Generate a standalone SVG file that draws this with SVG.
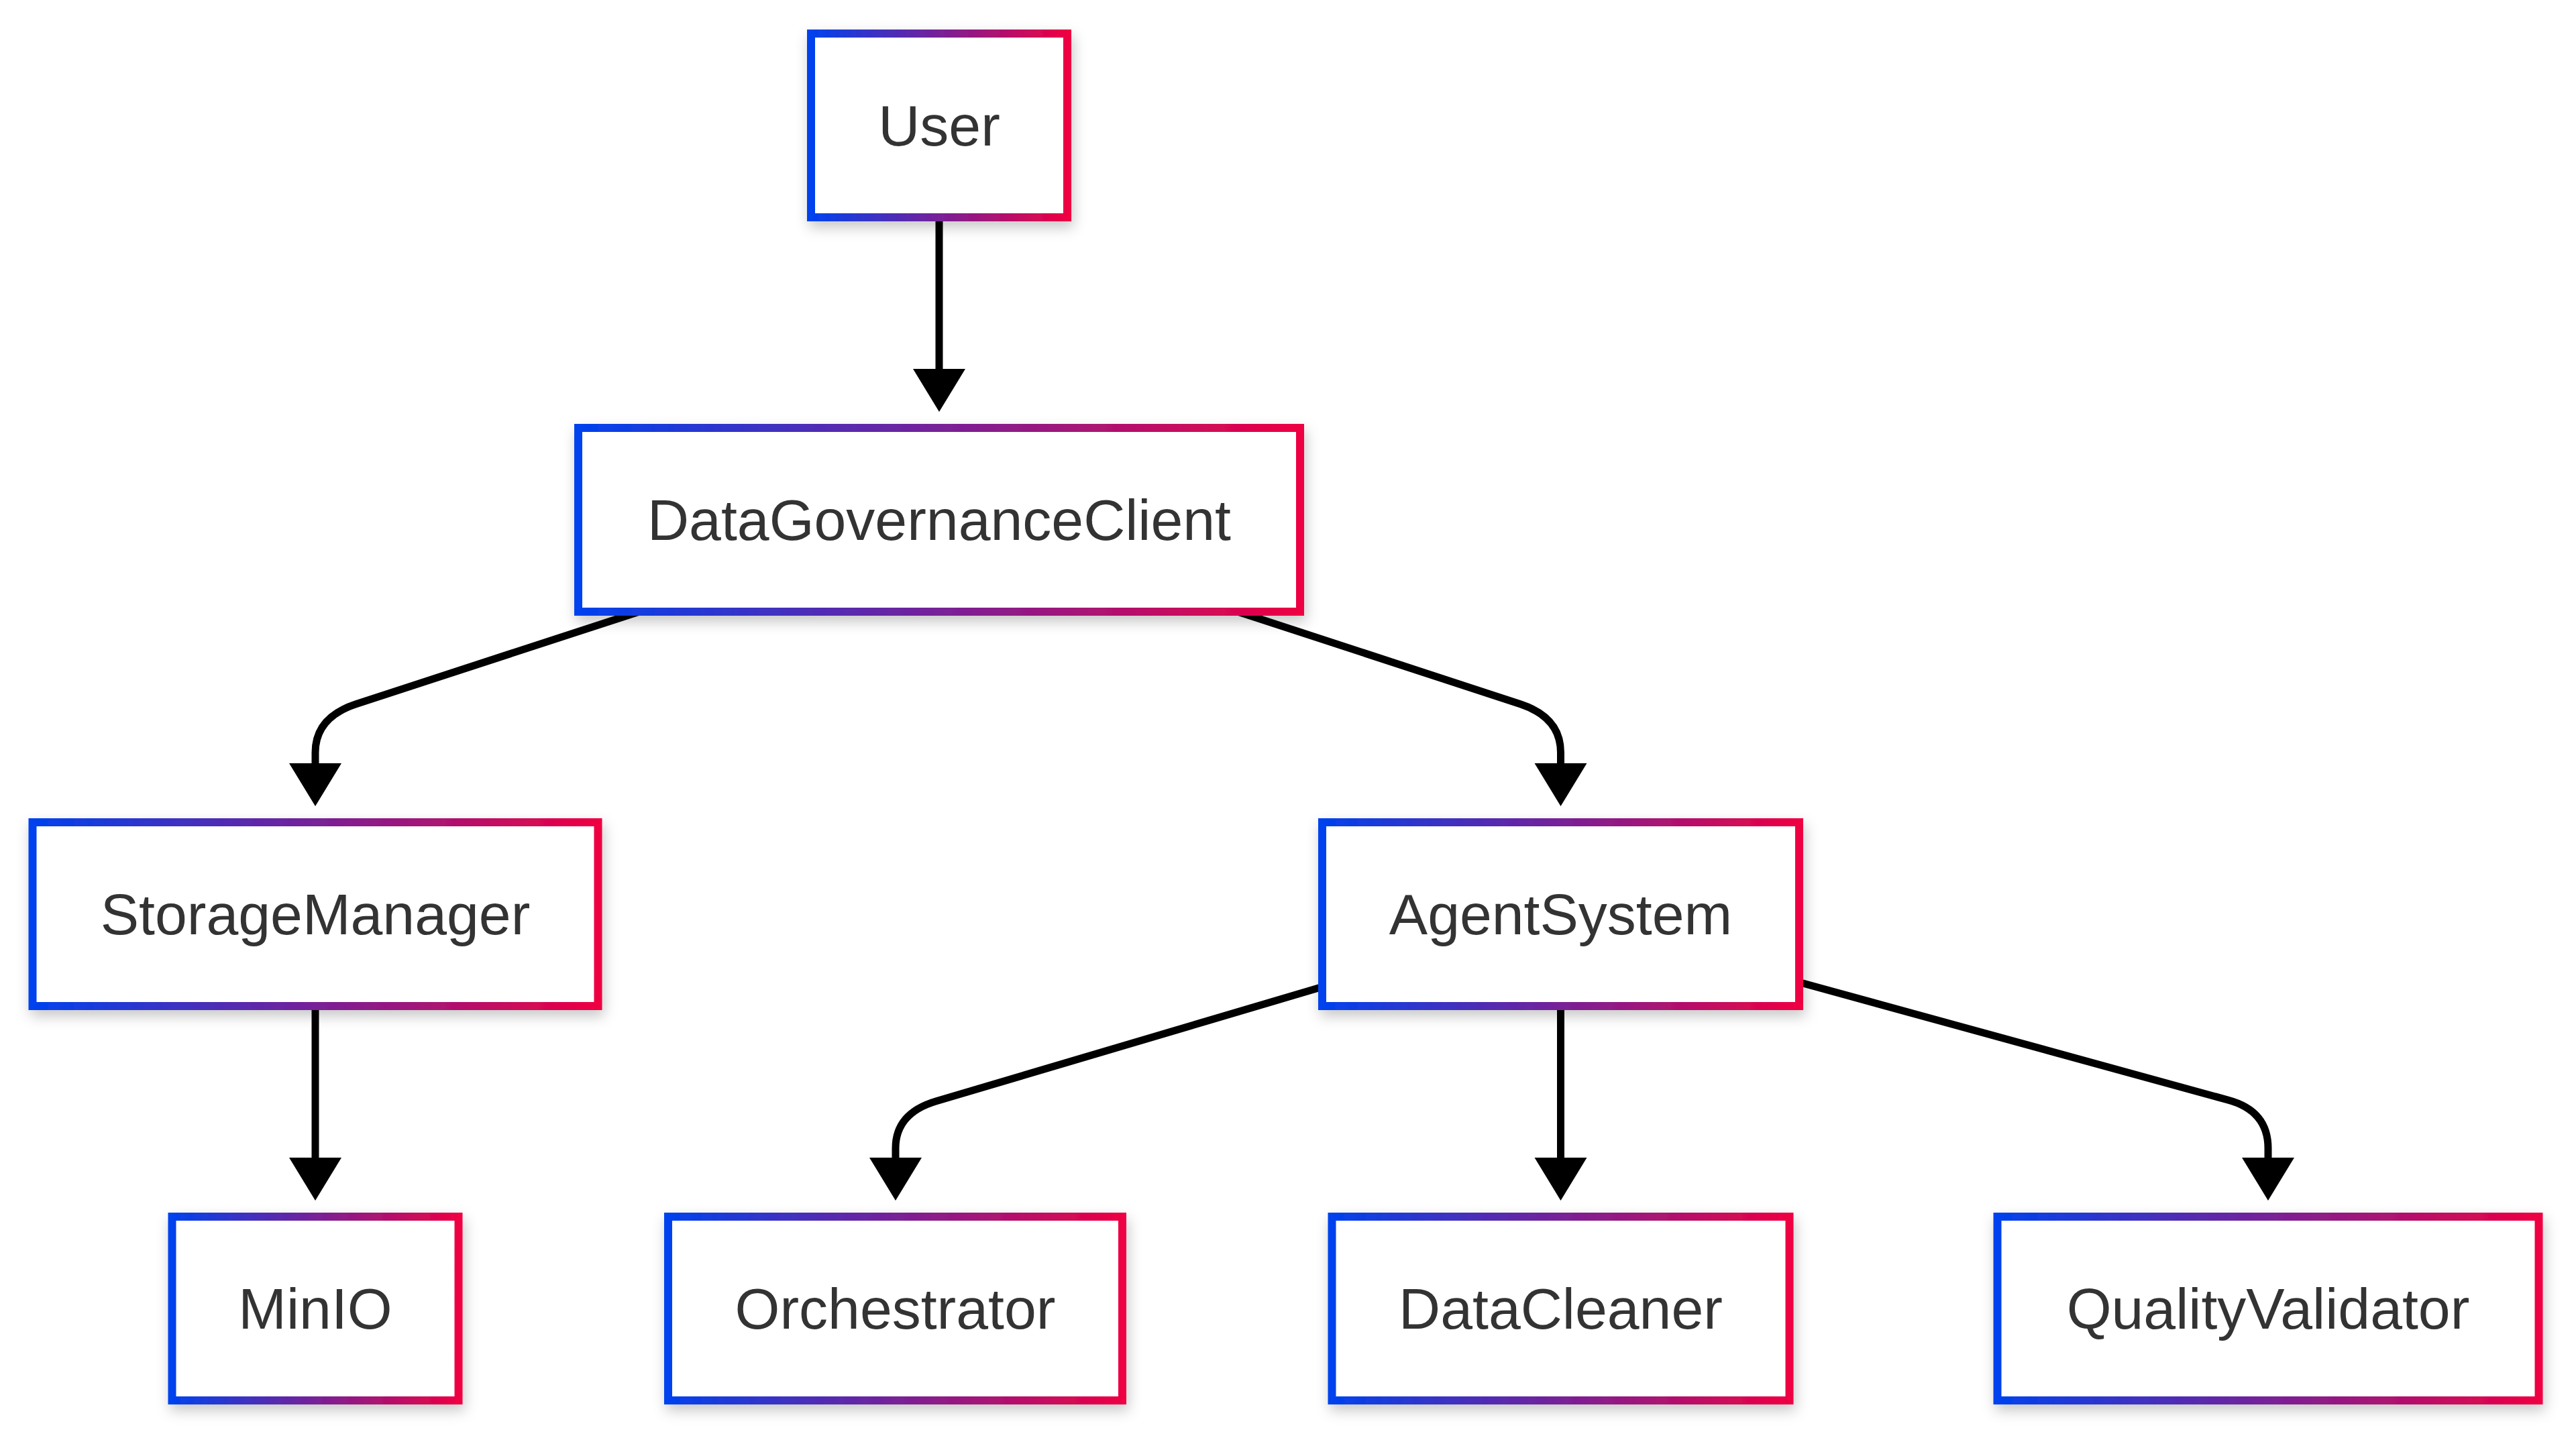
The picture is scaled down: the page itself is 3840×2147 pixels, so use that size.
<svg xmlns="http://www.w3.org/2000/svg" width="3840" height="2147" viewBox="0 0 3840 2147">
<defs>
<linearGradient id="g" x1="0" y1="0" x2="1" y2="0">
<stop offset="0" stop-color="#0042EE"/>
<stop offset="1" stop-color="#EE0042"/>
</linearGradient>
<filter id="sh" x="-20%" y="-30%" width="140%" height="170%">
<feDropShadow dx="3" dy="9" stdDeviation="10" flood-color="#000" flood-opacity="0.22"/>
</filter>
<marker id="ah" markerUnits="userSpaceOnUse" markerWidth="66" markerHeight="80" refX="0" refY="39" orient="auto" viewBox="0 0 66 78">
<path d="M0,0 L64,39 L0,78 Z" fill="#000"/>
</marker>
<style>
.n rect{fill:#fff;stroke:url(#g);stroke-width:12;filter:url(#sh)}
.n text{font-family:"Liberation Sans",Arial,sans-serif;font-size:86px;fill:#333;text-anchor:middle}
.e path{fill:none;stroke:#000;stroke-width:11;marker-end:url(#ah)}
</style>
</defs>
<rect width="3840" height="2147" fill="#fff"/>
<g id="connectors" class="e">
<path d="M1400,328 L1400,550"/>
<path d="M953,912 L530,1050 Q470,1070 470,1122 L470,1138"/>
<path d="M1845,912 L2267,1050 Q2326.5,1070 2326.5,1122 L2326.5,1138"/>
<path d="M470,1504 L470,1726"/>
<path d="M1969,1472 L1395,1642 Q1335,1660 1335,1712 L1335,1726"/>
<path d="M2326.5,1504 L2326.5,1726"/>
<path d="M2684,1465 L3321,1640 Q3381,1656 3381,1712 L3381,1726"/>
</g>
<g id="User" class="n"><rect x="1209" y="50" width="382" height="274"/><text x="1400" y="217">User</text></g>
<g id="DataGovernanceClient" class="n"><rect x="862" y="638" width="1076" height="274"/><text x="1400" y="805">DataGovernanceClient</text></g>
<g id="StorageManager" class="n"><rect x="48.5" y="1226" width="843" height="274"/><text x="470" y="1393">StorageManager</text></g>
<g id="AgentSystem" class="n"><rect x="1971" y="1226" width="711" height="274"/><text x="2326.5" y="1393">AgentSystem</text></g>
<g id="MinIO" class="n"><rect x="256.5" y="1814" width="427" height="274"/><text x="470" y="1981">MinIO</text></g>
<g id="Orchestrator" class="n"><rect x="996" y="1814" width="677" height="274"/><text x="1334.5" y="1981">Orchestrator</text></g>
<g id="DataCleaner" class="n"><rect x="1985.5" y="1814" width="682" height="274"/><text x="2326.5" y="1981">DataCleaner</text></g>
<g id="QualityValidator" class="n"><rect x="2977.5" y="1814" width="807" height="274"/><text x="3381" y="1981">QualityValidator</text></g>
</svg>
